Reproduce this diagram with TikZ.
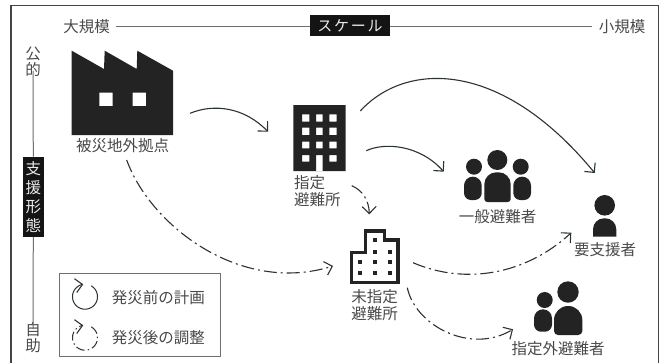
\documentclass[tikz,border=0pt]{standalone}
\usepackage{fontspec}
\setmainfont{Noto Sans CJK JP}
\usetikzlibrary{arrows.meta}
\definecolor{ink}{HTML}{232323}
\definecolor{txt}{HTML}{4A4A4A}
\definecolor{arrowc}{HTML}{2B352E}
\definecolor{rulec}{HTML}{6E6E6E}
\tikzset{
  lbl/.style={inner sep=0pt,text=txt,font=\fontsize{15.5}{17.5}\selectfont,align=center},
  lblleft/.style={lbl,align=left,anchor=west},
  blackbox/.style={fill=black!92,text=white!92!black,inner sep=0pt,align=center,minimum width=21pt},
  axis/.style={draw=rulec,line width=1pt},
  iconfill/.style={fill=ink,draw=none},
  barb/.style={-{Straight Barb[length=7pt,width=14pt,line width=1.1pt]}},
  flow/.style={barb,draw=arrowc,line width=1.1pt},
  flowdash/.style={flow,dash pattern=on 13pt off 4pt on 2pt off 4pt},
  cyc/.style={barb,draw=arrowc,line width=1pt,smooth,samples=70,variable=\a},
}
\begin{document}
\begin{tikzpicture}[x=1pt,y=-1pt]
\useasboundingbox (0,0) rectangle (666,362);
\fill[white] (0,0) rectangle (666,362);
\draw[draw=ink!85,line width=1.3pt] (11,5.5) rectangle (658.5,366);

% scale axis
\node[lbl] (big) at (86.5,26.5) {大規模};
\node[lbl] (small) at (622,26.5) {小規模};
\node[fill=black!92,text=white!92!black,inner sep=0pt,minimum width=80pt,minimum height=21pt,
  font=\fontsize{15}{17}\selectfont\addfontfeature{LetterSpace=12}] (scale) at (350,25.5) {スケール};
\draw[axis] (big.east) ++(6,0) -- (scale.west |- big.east);
\draw[axis] (scale.east |- small.west) -- ([xshift=-7pt]small.west);

% support axis
\node[lbl,font=\fontsize{15.5}{16}\selectfont] (public) at (33,62) {公\\的};
\node[lbl,font=\fontsize{15.5}{16}\selectfont] (self) at (33,337.5) {自\\助};
\node[blackbox,minimum height=80pt,font=\fontsize{15.5}{19}\selectfont] (form) at (33.3,196.7) {支\\援\\形\\態};
\draw[axis] ([yshift=6pt]public.south) -- (form.north);
\draw[axis] (form.south) -- ([yshift=-7pt]self.north);

% factory
\fill[iconfill,even odd rule] (71.7,50.7) -- (104,69) -- (104.7,50.7) -- (136.7,69) -- (137.3,50.7) -- (173,70.7)
  -- (173,135) -- (71.7,135) -- cycle
  (99.3,92.7) rectangle (112.7,106) (132.7,92.7) rectangle (146,106);
\node[lbl] (factory) at (122.5,146) {被災地外拠点};

% designated shelter
\fill[iconfill,even odd rule] (293.3,105) rectangle (345.7,171)
  (302,114.3) rectangle (309.3,121.7) (316,114.3) rectangle (322.7,121.7) (329.3,114.3) rectangle (336.7,121.7)
  (302,127.7) rectangle (309.3,135) (316,127.7) rectangle (322.7,135) (329.3,127.7) rectangle (336.7,135)
  (302,141.7) rectangle (309.3,148.3) (316,141.7) rectangle (322.7,148.3) (329.3,141.7) rectangle (336.7,148.3)
  (302,155) rectangle (309.3,161.7) (316,155) rectangle (322.7,171) (329.3,155) rectangle (336.7,161.7);
\node[lblleft] (shelter) at (294,191) {指定\\避難所};

% undesignated shelter
\draw[draw=ink,line width=3.3pt,miter limit=4] (351.4,282.6) -- (351.4,252.7) -- (365.4,252.7) -- (365.4,231)
  -- (384.6,231) -- (384.6,240) -- (398,240) -- (398,282.6) -- cycle;
\foreach \px/\py in {374.7/240.3,374.7/251.7,389.7/251.7,359.7/262,374.7/262,389.7/262,359.7/273.3,374.7/273.3,389.7/273.3}
  \fill[ink] (\px-2,\py-2) rectangle (\px+2,\py+2);
\node[lbl] (unshelter) at (374.5,305) {未指定\\避難所};

% general evacuees
\fill[iconfill] (497.3,160) circle[radius=10] (474,166.7) circle[radius=8] (520.7,166.7) circle[radius=8];
\fill[iconfill] (484.3,202) [rounded corners=12pt] -- (484.3,172.3) -- (510.7,172.3) [rounded corners=3pt] -- (510.7,202) -- cycle;
\fill[iconfill] (481.7,200) [rounded corners=9pt] -- (481.7,176.6) [rounded corners=9pt] -- (464,176.6) [rounded corners=7pt] -- (464,200) -- cycle;
\fill[iconfill] (513.3,200) [rounded corners=9pt] -- (513.3,176.6) -- (531,176.6) [rounded corners=7pt] -- (531,200) -- cycle;
\node[lbl] (general) at (497.5,217) {一般避難者};

% person needing support
\fill[iconfill] (604.7,205.3) circle[radius=10.3];
\fill[iconfill] (593,236.7) [rounded corners=11pt] -- (593,218.3) -- (616.3,218.3) [sharp corners] -- (616.3,236.7) -- cycle;
\node[lbl] (support) at (605,250) {要支援者};

% evacuees outside
\fill[iconfill] (568,292) circle[radius=10.7] (544.7,300) circle[radius=8];
\fill[iconfill] (554,335) [rounded corners=14pt] -- (554,306) -- (582.3,306) [rounded corners=4pt] -- (582.3,335) -- cycle;
\fill[iconfill] (552,331.7) [rounded corners=9pt] -- (552,309.3) -- (534,309.3) [rounded corners=7pt] -- (534,331.7) -- cycle;
\node[lbl] (outside) at (558,349) {指定外避難者};

% connector ends
\coordinate (a1) at (190,113.3);  \coordinate (b1) at (268,131.7);
\coordinate (a2) at (360.3,111);  \coordinate (b2) at (594.7,173);
\coordinate (a3) at (366.3,150.7);\coordinate (b3) at (443.7,171.7);
\coordinate (a4) at (351.7,185.7);\coordinate (b4) at (369.3,214.3);
\coordinate (a5) at (126.7,160);  \coordinate (b5) at (333,266);
\coordinate (a6) at (413,262.7);  \coordinate (b6) at (571.3,232.7);
\coordinate (a7) at (407.3,287.7);\coordinate (b7) at (513,329.3);

\draw[flow] (a1) .. controls (215,103) and (245,108) .. (b1);
\draw[flow] (a2) .. controls (405,62) and (500,58) .. (b2);
\draw[flow] (a3) .. controls (385,142) and (420,145) .. (b3);
\draw[flowdash] (a4) .. controls (362,190) and (369,200) .. (b4);
\draw[flowdash] (a5) .. controls (150,225) and (240,295) .. (b5);
\draw[flowdash] (a6) .. controls (465,285) and (525,275) .. (b6);
\draw[flowdash] (a7) .. controls (415,325) and (470,355) .. (b7);

% legend
\draw[draw=rulec,line width=1pt] (59.5,273.5) rectangle (220,356.7);
\draw[cyc] plot[domain=60:-262] ({85+12.5*cos(\a)},{296.7-12.5*sin(\a)});
\draw[cyc,dash pattern=on 9pt off 3pt on 1.5pt off 3pt] plot[domain=60:-262] ({85+12.5*cos(\a)},{337.7-12.5*sin(\a)});
\node[lblleft] (plan) at (111.7,297.7) {発災前の計画};
\node[lblleft] (adjust) at (111.7,338) {発災後の調整};
\end{tikzpicture}
\end{document}
